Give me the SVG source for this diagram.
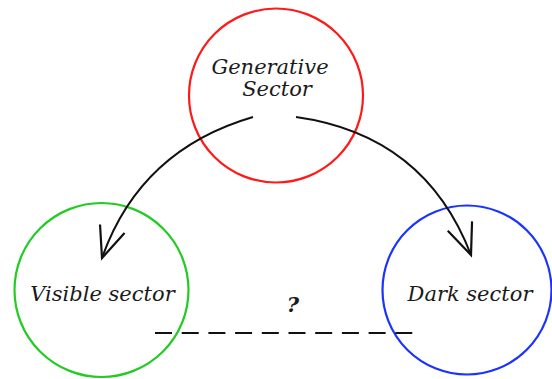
<svg xmlns="http://www.w3.org/2000/svg" width="552" height="379" viewBox="0 0 552 379">
<style>
.node{fill:none;stroke-width:2.2}
.lbl{font-family:"DejaVu Serif","Liberation Serif",serif;font-style:italic;font-size:21px;fill:#1a1a1a}
.conn{fill:none;stroke:#111;stroke-width:2}
</style>
<defs>
<marker id="arr" markerUnits="userSpaceOnUse" markerWidth="40" markerHeight="40" refX="0" refY="0" viewBox="-34 -20 38 40" orient="auto">
<path d="M-31,-13 L0,0 L-31,13" fill="none" stroke="#111" stroke-width="2.2"/>
</marker>
</defs>
<rect width="552" height="379" fill="#fff"/>
<g id="generative">
<circle class="node" cx="276" cy="95.5" r="87" stroke="#ff1a1a"/>
<text class="lbl" x="270" y="74" text-anchor="middle">Generative</text>
<text class="lbl" x="277" y="96" text-anchor="middle">Sector</text>
</g>
<g id="visible">
<circle class="node" cx="101.5" cy="290" r="87" stroke="#22cc22"/>
<text class="lbl" x="102.5" y="301" text-anchor="middle">Visible  sector</text>
</g>
<g id="dark">
<circle class="node" cx="467" cy="290" r="84.5" stroke="#1a33ff"/>
<text class="lbl" x="470" y="301" text-anchor="middle">Dark  sector</text>
</g>
<g id="connectors">
<path class="conn" d="M253,117 Q140,150 102,258" marker-end="url(#arr)"/>
<path class="conn" d="M296,117 Q425,135 471,255" marker-end="url(#arr)"/>
<line class="conn" x1="155" y1="333" x2="415" y2="333" stroke-dasharray="17 9.7"/>
<text class="lbl" x="293" y="312" text-anchor="middle" font-weight="bold" font-size="18">?</text>
</g>
</svg>
